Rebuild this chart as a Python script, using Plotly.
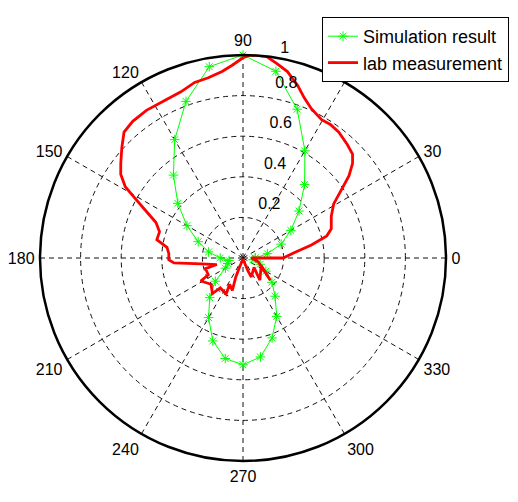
import plotly.graph_objects as go

# ---- data ----
sim_theta = [0, 10, 20, 30, 40, 50, 60, 70, 80, 90, 100, 110, 120, 130, 140, 150, 160, 170,
             180, 190, 200, 210, 220, 230, 240, 250, 260, 270, 280, 290, 300, 310, 320, 330,
             340, 350, 360]
sim_r = [0.06, 0.122, 0.20, 0.272, 0.36, 0.472, 0.61, 0.78, 0.934, 1.0, 0.957, 0.821, 0.673,
         0.533, 0.419, 0.319, 0.235, 0.172, 0.112, 0.07, 0.08, 0.10, 0.178, 0.255, 0.339,
         0.435, 0.503, 0.526, 0.495, 0.419, 0.332, 0.246, 0.186, 0.13, 0.09, 0.05, 0.06]

lab_theta = [0, 0, 5.9, 10.8, 14.8, 18.3, 25.3, 30.8, 35.1, 37.8, 40.8, 43.5, 47.4, 52.7, 56.8,
             60.4, 65.4, 69, 72.4, 76.6, 80.1, 83.3, 86.2, 88.2, 90.1, 93.2, 96.4, 100.9, 105.4,
             110.5, 116.8, 123.2, 128.9, 133.4, 137.7, 142.3, 145.6, 148.8, 150.9, 154.3, 157.8,
             162.6, 168, 172.1, 176.6, 181.4, 184.1, 188.1, 194, 195.8, 205.8, 208.6, 219.4,
             229.3, 232.8, 245, 242.9, 251.8, 249.2, 249.5, 270, 290.8, 293.6, 319.8, 307.4,
             337.8, 320.9, 346.2, 355, 360]
lab_r = [0.04, 0.198, 0.253, 0.343, 0.427, 0.458, 0.481, 0.52, 0.598, 0.661, 0.713, 0.744,
         0.759, 0.779, 0.786, 0.784, 0.809, 0.844, 0.891, 0.944, 0.972, 0.999, 1.0, 0.999,
         0.985, 0.951, 0.925, 0.904, 0.897, 0.874, 0.866, 0.869, 0.865, 0.853, 0.807, 0.761,
         0.73, 0.678, 0.612, 0.528, 0.463, 0.431, 0.434, 0.378, 0.366, 0.366, 0.341, 0.207,
         0.133, 0.192, 0.19, 0.237, 0.204, 0.231, 0.185, 0.196, 0.145, 0.168, 0.1, 0.043,
         0.005, 0.067, 0.102, 0.071, 0.137, 0.097, 0.173, 0.077, 0.05, 0.04]

radial_ticks = [0.2, 0.4, 0.6, 0.8, 1]
radial_labels = ["0.2", "0.4", "0.6", "0.8", "1"]
angle_ticks = [0, 30, 60, 90, 120, 150, 180, 210, 240, 270, 300, 330]
angle_labels = ["0", "30", "60", "90", "120", "150", "180", "210", "240", "270", "300", "330"]

FONT = "Liberation Sans, Arial, sans-serif"
W, H = 518, 502
OFF = 8            # default page margin of the html body
CX, CY, R = 243 - OFF, 258 - OFF, 203   # circle centre / radius in figure pixels
R_MAX = 1.0
LABEL_ANGLE = 82   # radial labels sit beside the 82 degree direction (MATLAB style)
LABEL_LIFT = 0.025
NBSP = "\u00a0\u00a0"

fig = go.Figure()
fig.add_trace(go.Scatterpolar(
    r=sim_r, theta=sim_theta, mode="lines+markers", name="Simulation result",
    line=dict(color="#00ff00", width=1),
    marker=dict(symbol="asterisk-open", size=8, color="#00ff00",
                line=dict(color="#00ff00", width=1)),
))
fig.add_trace(go.Scatterpolar(
    r=lab_r, theta=lab_theta, mode="lines", name="lab measurement",
    line=dict(color="#ff0000", width=2.8),
))
fig.add_trace(go.Scatterpolar(
    r=[min(v + LABEL_LIFT, R_MAX) for v in radial_ticks],
    theta=[LABEL_ANGLE] * len(radial_ticks),
    mode="text", text=[NBSP + t for t in radial_labels],
    textposition="top right", textfont=dict(family=FONT, size=16, color="black"),
    showlegend=False, hoverinfo="skip", cliponaxis=False,
))

fig.update_layout(
    width=W, height=H,
    margin=dict(l=0, r=0, t=0, b=0),
    paper_bgcolor="white",
    font=dict(family=FONT, size=16, color="black"),
    polar=dict(
        domain=dict(x=[(CX - R) / W, (CX + R) / W],
                    y=[(H - CY - R) / H, (H - CY + R) / H]),
        bgcolor="white",
        radialaxis=dict(range=[0, R_MAX], tickvals=radial_ticks, showticklabels=False,
                        ticks="", showline=False, gridcolor="#111111", gridwidth=0.9,
                        griddash="5px,4px"),
        angularaxis=dict(tickvals=angle_ticks, ticktext=angle_labels,
                         direction="counterclockwise", rotation=0,
                         showline=True, linecolor="black", linewidth=2.5,
                         gridcolor="#111111", gridwidth=0.9, griddash="5px,4px",
                         ticks="outside", ticklen=1, tickcolor="rgba(0,0,0,0)",
                         tickfont=dict(family=FONT, size=16, color="black")),
    ),
    legend=dict(x=(322 - OFF) / W, y=1 - (17 - OFF) / H, xanchor="left", yanchor="top",
                bgcolor="white", bordercolor="black", borderwidth=1,
                font=dict(family=FONT, size=18, color="black"), itemwidth=30),
)

fig.write_html("out.html")
